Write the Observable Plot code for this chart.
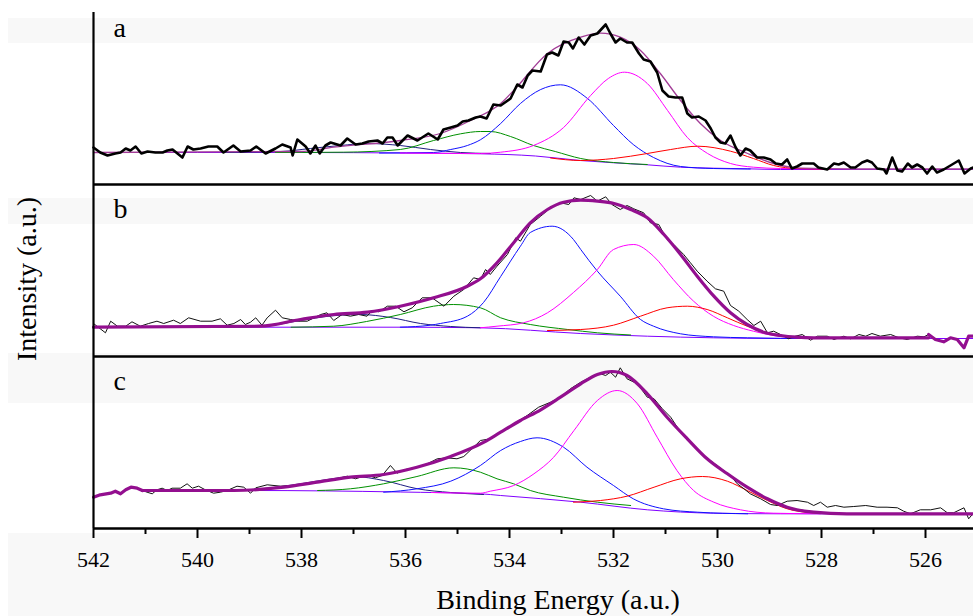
<!DOCTYPE html>
<html><head><meta charset="utf-8">
<script src="https://cdn.jsdelivr.net/npm/d3@7"></script>
<script src="https://cdn.jsdelivr.net/npm/@observablehq/plot@0.6"></script>
<style>
html,body{margin:0;padding:0;background:#fff;overflow:hidden}
#wrap{position:relative;width:973px;height:616px}
.band{position:absolute;left:8px;right:0;background:#f8f8f8}
#chart{position:absolute;left:0;top:0}
#chart svg text{font-family:"Liberation Serif","Times New Roman",serif}
#chart svg g[aria-label="x-axis tick label"]{font-size:22px}
#chart svg g.plabel{font-size:28px}
.lab{position:absolute;font-family:"Liberation Serif","Times New Roman",serif;font-size:28px;line-height:28px;height:28px;width:400px;text-align:center;color:#000;white-space:nowrap}
</style></head><body>
<div id="wrap">
<div class="band" style="top:18px;height:25px"></div>
<div class="band" style="top:198px;height:26px"></div>
<div class="band" style="top:353px;height:50px"></div>
<div class="band" style="top:533px;height:83px"></div>
<div id="chart"></div>
<div class="lab" style="left:358px;top:586px">Binding Energy (a.u.)</div>
<div class="lab" style="left:-173px;top:265px;transform:rotate(-90deg)">Intensity (a.u.)</div>
</div>
<script>
// ---- tick labels / categories ----
const panels = ["a", "b", "c"];
const majorTicks = [542, 540, 538, 536, 534, 532, 530, 528, 526];
const minorTicks = [541, 539, 537, 535, 533, 531, 529, 527];

// ---- panel a: [binding energy, intensity] ----
const rawA = [[542.00,37],[541.87,32],[541.73,29],[541.58,31],[541.48,32],[541.38,36],[541.29,34],[541.19,38],[541.08,31],[540.96,33],[540.81,32],[540.67,32],[540.58,34],[540.48,35],[540.29,27],[540.19,38],[540.08,35],[539.94,36],[539.79,38],[539.62,38],[539.50,32],[539.31,39],[539.17,33],[538.98,34],[538.87,38],[538.69,31],[538.50,36],[538.37,40],[538.21,37],[538.17,29],[538.08,45],[537.92,38],[537.83,31],[537.73,39],[537.65,31],[537.54,39],[537.44,42],[537.25,39],[537.12,46],[536.96,40],[536.83,41],[536.71,43],[536.54,44],[536.44,41],[536.35,47],[536.25,47],[536.15,39],[535.96,49],[535.77,44],[535.56,51],[535.38,45],[535.27,55],[535.13,57],[535.00,59],[534.90,63],[534.79,64],[534.65,67],[534.56,68],[534.44,66],[534.31,80],[534.17,79],[533.98,86],[533.85,100],[533.75,97],[533.65,109],[533.56,114],[533.40,113],[533.28,130],[533.18,132],[533.06,129],[532.96,143],[532.86,142],[532.78,136],[532.67,147],[532.56,140],[532.44,149],[532.31,151],[532.15,160],[532.06,151],[531.96,142],[531.87,146],[531.74,142],[531.64,142],[531.51,131],[531.42,125],[531.29,123],[531.16,112],[531.06,94],[530.94,88],[530.81,87],[530.68,87],[530.58,71],[530.49,67],[530.36,68],[530.23,64],[530.13,56],[530.04,47],[529.94,42],[529.85,41],[529.75,49],[529.65,37],[529.56,29],[529.46,36],[529.37,34],[529.24,27],[529.11,27],[528.98,25],[528.88,21],[528.76,20],[528.66,25],[528.57,16],[528.47,18],[528.37,21],[528.24,21],[528.15,21],[528.06,17],[527.89,15],[527.76,21],[527.67,20],[527.57,22],[527.44,17],[527.35,17],[527.22,22],[527.12,24],[527.03,22],[526.93,16],[526.80,15],[526.75,11],[526.64,27],[526.54,14],[526.45,13],[526.34,21],[526.26,17],[526.16,20],[526.06,17],[525.97,11],[525.87,18],[525.78,12],[525.65,15],[525.52,19],[525.36,24],[525.25,11],[525.13,16],[525.08,17]];
const envA = [[542.00,32],[538.02,33],[537.38,37.3],[536.10,44],[535.33,51],[534.75,64],[534.17,81],[533.92,94],[533.27,131],[532.63,147.3],[532.25,151.3],[531.87,147.3],[531.48,134],[531.10,111],[530.71,84],[530.33,61],[529.94,44],[529.42,31],[528.92,21],[528.40,16.3],[527.44,15.5],[525.08,15.5]];
const bgA = [[542.00,32],[538.00,32],[536.00,31.5],[534.56,30.7],[533.50,28.5],[532.64,24],[531.35,19.7],[530.71,17.3],[529.42,15.7],[528.79,15],[525.08,15]];
const navyA = [[539.50,32],[538.40,33],[537.83,36],[537.25,39],[536.73,41],[536.10,39],[535.52,35],[534.94,32],[534.37,31]];
const greenA = [[538.50,32],[537.19,32.3],[536.10,35],[535.46,44],[534.94,50.7],[534.56,53],[534.37,53],[533.98,48],[533.54,39],[533.12,33],[532.63,26],[532.00,22],[531.35,20]];
const blueA = [[536.50,31.5],[535.46,32],[535.13,35],[534.81,39],[534.56,44.7],[534.17,61],[533.79,81],[533.40,95],[533.02,99.7],[532.50,86],[532.00,59],[531.62,40],[531.23,27],[530.71,18],[530.08,16],[529.37,15.5]];
const magentaA = [[536.10,31.5],[534.56,31],[534.17,32.3],[533.54,39],[532.96,57],[532.44,89],[532.10,106],[531.79,112.3],[531.35,101],[530.96,74],[530.58,47],[530.19,31],[529.75,21],[529.31,17.3],[528.79,16],[527.83,15.5]];
const redA = [[533.21,26.5],[532.63,24],[532.00,26],[531.35,31],[530.90,35],[530.38,38.3],[529.75,33.3],[529.31,26],[528.92,19],[528.46,16],[527.83,15.5]];

// ---- panel b ----
const rawB = [[542.00,33],[541.77,23.7],[541.67,35.3],[541.54,30.3],[541.38,30.3],[541.26,34.7],[541.10,30.3],[540.94,33],[540.78,35.3],[540.65,33],[540.46,36.3],[540.33,33],[540.17,38.7],[539.94,35.3],[539.72,35.3],[539.56,37.7],[539.43,31.3],[539.30,33],[539.17,37],[539.08,32],[538.98,34.3],[538.88,38.7],[538.76,31.3],[538.66,38.7],[538.50,46.3],[538.37,38.7],[538.21,37],[538.05,35.3],[537.89,35.3],[537.76,38.7],[537.63,42],[537.51,43.7],[537.38,36],[537.22,42],[537.06,40.3],[536.90,42],[536.74,40.3],[536.64,46],[536.51,44.7],[536.35,50.3],[536.19,50.3],[536.03,44.7],[535.87,48.7],[535.68,58.7],[535.49,58.7],[535.26,50.3],[535.07,60.3],[534.88,67],[534.69,78.7],[534.56,77],[534.46,87],[534.37,82],[534.24,90.3],[534.04,102],[533.88,118.7],[533.79,115.3],[533.60,132],[533.40,140.3],[533.21,148.7],[533.02,153.7],[532.86,152],[532.76,158.7],[532.63,157],[532.44,161],[532.31,155.3],[532.15,159.7],[532.03,152],[531.87,147],[531.74,151],[531.61,147.7],[531.42,143.7],[531.29,133.7],[531.13,132],[530.97,117],[530.84,112],[530.65,102],[530.52,93.7],[530.39,85.3],[530.20,75.3],[530.04,67.7],[529.88,65.3],[529.75,51],[529.59,45.3],[529.43,37],[529.30,31],[529.17,35.3],[529.04,23.7],[528.92,25.3],[528.79,22],[528.63,17.7],[528.50,20.3],[528.37,22],[528.21,16.3],[528.08,20.3],[527.89,20.3],[527.76,17],[527.57,20.3],[527.44,17.7],[527.28,22],[527.15,20.3],[527.03,23],[526.87,20.3],[526.67,22],[526.51,18.7],[526.35,17],[526.16,20.3],[526.03,19.7],[525.94,22],[525.81,17],[525.65,14.7],[525.52,18.7],[525.39,17],[525.26,8.7],[525.17,20.3],[525.08,20.3]];
const envB = [[542.00,29.3],[538.79,30.3],[538.02,37],[537.38,42],[536.73,44.3],[536.10,50.3],[535.46,58.7],[534.81,70.3],[534.56,77.7],[534.24,93.7],[533.92,113.7],[533.60,133.7],[533.27,147],[532.96,154.3],[532.63,156.3],[532.31,155.3],[531.99,153],[531.67,147],[531.35,138.7],[531.03,122],[530.71,102],[530.39,80.3],[530.07,60.3],[529.75,43.7],[529.43,32],[529.11,24.3],[528.79,21],[528.47,19.3],[528.15,18.7],[525.94,18.7]];
const bgB = [[542.00,29.3],[536.10,29.3],[534.56,28.7],[532.63,23],[531.35,20.3],[530.08,18.7],[528.79,18],[525.08,18]];
const navyB = [[539.50,29.3],[538.79,30],[538.02,36],[537.44,40.5],[536.87,42],[536.29,39],[535.71,33],[535.13,30],[534.56,28.7]];
const greenB = [[538.20,29.3],[537.38,30.3],[536.75,35],[536.10,42],[535.46,50.3],[535.08,52],[534.56,48.7],[534.17,38.7],[533.60,32],[532.88,27],[532.31,23.7],[531.67,21.5]];
const blueB = [[536.10,29.3],[535.52,31.3],[535.33,33],[534.81,40.3],[534.50,54],[534.17,80],[533.79,110.3],[533.60,124],[533.18,130.3],[532.77,117],[532.63,107],[532.31,85.3],[531.87,60.3],[531.48,37],[531.23,30.3],[530.71,22.7],[530.08,19.7],[529.42,18.7],[528.40,18]];
const magentaB = [[534.56,28.7],[534.24,30.3],[533.73,33.7],[533.27,43.7],[532.77,64],[532.31,87],[532.00,107],[531.61,112],[531.23,100.3],[530.85,77],[530.46,55.3],[530.08,40.3],[529.69,31],[529.31,25.3],[528.92,21],[528.46,18.7],[527.83,18]];
const redB = [[533.27,26],[532.63,27],[532.00,31.3],[531.48,40.3],[530.97,48.7],[530.58,50.3],[530.20,47],[529.81,38.7],[529.43,30.3],[529.04,23.7],[528.66,19.7],[528.02,18]];

// ---- panel c ----
const rawC = [[542.00,31.3],[541.87,33.7],[541.67,35.3],[541.58,37.3],[541.48,34.7],[541.38,38.7],[541.28,41.3],[541.16,40.3],[541.06,38],[540.97,36.3],[540.87,34.7],[540.78,38.7],[540.68,40.3],[540.58,38],[540.49,40.3],[540.33,40.3],[540.20,44.7],[540.10,40.3],[539.98,42.3],[539.85,38.7],[539.69,35.3],[539.56,36.3],[539.43,38],[539.24,42.3],[539.11,41.3],[538.98,35.3],[538.88,40.7],[538.66,43.7],[538.40,42.3],[538.15,43],[537.89,45.3],[537.63,47],[537.38,49],[537.12,52.3],[536.96,49.7],[536.83,52],[536.71,53],[536.58,50.7],[536.45,53],[536.29,63],[536.16,55.3],[536.03,58.7],[535.78,61.3],[535.58,64.7],[535.39,69.7],[535.20,70.7],[535.01,69.7],[534.88,72],[534.69,81.3],[534.56,88],[534.37,89.7],[534.17,96.3],[533.92,104.7],[533.66,113],[533.44,121.3],[533.21,126.3],[533.02,131.3],[532.83,139.7],[532.63,146.3],[532.44,151.3],[532.25,154.7],[532.15,153],[532.06,156.3],[531.96,151.3],[531.87,160.7],[531.74,149.7],[531.54,144.7],[531.35,131.3],[531.22,129.7],[531.06,119.7],[530.90,111.3],[530.71,96.3],[530.55,88],[530.39,79.7],[530.26,73],[530.07,65.3],[529.88,58],[529.75,53],[529.62,44.7],[529.49,39.7],[529.37,34.7],[529.17,29.7],[528.98,24],[528.85,23],[528.66,27.3],[528.47,28],[528.27,26.3],[528.15,23],[528.02,26.3],[527.89,21.3],[527.73,23],[527.57,21.3],[527.38,22],[527.15,23],[526.93,21.3],[526.74,21.3],[526.54,20.7],[526.42,17.3],[526.29,14.7],[526.10,18.7],[525.90,18.7],[525.71,20.7],[525.58,15.7],[525.46,15.7],[525.26,20.7],[525.17,9.7],[525.08,15.3]];
const envC = [[541.06,38],[539.30,38],[538.34,41.3],[537.70,46.3],[537.06,51.3],[536.42,54],[535.78,61.3],[535.13,72],[534.49,86.3],[534.17,96.3],[533.79,108],[533.40,118.7],[533.02,131.3],[532.63,144.7],[532.31,154],[532.03,157],[531.74,153],[531.35,134.7],[530.97,111.3],[530.58,89.7],[530.20,69.7],[529.81,54.7],[529.43,41.3],[529.04,29.7],[528.66,21.3],[528.15,16.3],[527.51,14.7],[525.08,14.7]];
const bgC = [[541.06,38],[538.98,38],[536.10,36.5],[534.56,34.7],[534.17,33],[532.63,26.3],[531.35,18.7],[530.08,15.3],[528.79,14.7],[525.08,14.7]];
const navyC = [[539.31,38],[538.65,40.3],[538.02,44.7],[537.44,49.5],[537.00,52],[536.42,48],[535.77,39.7],[535.13,36],[534.50,34]];
const greenC = [[537.69,38],[537.06,39.7],[536.42,44.7],[535.78,52],[535.07,60.7],[534.56,56.3],[534.24,49.7],[533.92,44.7],[533.60,38],[532.96,31.3],[532.31,26.3],[531.67,23]];
const blueC = [[536.42,36.3],[535.78,39.7],[535.13,47.3],[534.56,63],[534.17,78],[533.79,87],[533.47,90.7],[532.96,81.3],[532.51,61.3],[532.00,43],[531.62,29.7],[531.04,19.7],[530.38,16.3],[529.42,14.7]];
const magentaC = [[535.50,36],[534.56,35.3],[534.37,37.3],[533.92,43],[533.53,54.7],[533.15,71.3],[532.76,98],[532.31,128],[531.93,138],[531.54,124.7],[531.16,91.3],[530.78,58],[530.46,38],[530.07,26.3],[529.56,18.7],[528.92,15.3],[528.02,14.7]];
const redC = [[532.77,26.3],[532.25,28],[531.74,32.3],[531.22,41.3],[530.71,49.7],[530.29,52],[529.81,47.3],[529.43,38],[529.04,28],[528.66,19.7],[528.15,15.7],[527.44,14.7]];

// ---- build table ----
const rows = [];
function add(panel, series, arr) { for (const [E, I] of arr) rows.push({panel, series, E, I}); }
add("a","raw",rawA); add("a","env",envA); add("a","bg",bgA); add("a","navy",navyA); add("a","green",greenA); add("a","blue",blueA); add("a","magenta",magentaA); add("a","red",redA);
add("b","raw",rawB); add("b","env",envB); add("b","bg",bgB); add("b","navy",navyB); add("b","green",greenB); add("b","blue",blueB); add("b","magenta",magentaB); add("b","red",redB);
add("c","raw",rawC); add("c","env",envC); add("c","bg",bgC); add("c","navy",navyC); add("c","green",greenC); add("c","blue",blueC); add("c","magenta",magentaC); add("c","red",redC);

const sel = (s, f = () => true) => rows.filter(d => d.series === s && f(d));
const comp = (s, color) => Plot.line(sel(s), {x: "E", y: "I", fy: "panel", z: "panel", stroke: color, strokeWidth: 1, curve: "monotone-x"});

const serif = '"Liberation Serif","Times New Roman",serif';
const chart = Plot.plot({
  width: 973, height: 616,
  marginTop: 12, marginBottom: 88, marginLeft: 93, marginRight: 0,
  style: {fontFamily: serif, fontSize: "22px", color: "#000", background: "transparent", overflow: "visible"},
  x: {domain: [542, 525.077], label: null},
  y: {domain: [0, 172], axis: null},
  fy: {domain: panels, axis: null, padding: 0},
  marks: [
    comp("bg", "#8000ff"),
    comp("navy", "#1e1e80"),
    comp("green", "#009000"),
    comp("blue", "#1010ff"),
    comp("magenta", "#ff00ff"),
    comp("red", "#ff0000"),
    Plot.line(sel("env", d => d.panel === "a"), {x: "E", y: "I", fy: "panel", stroke: "#a23c96", strokeWidth: 1.3, curve: "monotone-x"}),
    Plot.line(sel("raw", d => d.panel === "a"), {x: "E", y: "I", fy: "panel", stroke: "#000", strokeWidth: 2.6, strokeLinejoin: "round"}),
    Plot.line(sel("raw", d => d.panel !== "a"), {x: "E", y: "I", fy: "panel", z: "panel", stroke: "#111", strokeWidth: 1}),
    Plot.line(sel("env", d => d.panel !== "a"), {x: "E", y: "I", fy: "panel", z: "panel", stroke: "#930f8f", strokeWidth: 3.2, curve: "monotone-x"}),
    Plot.line(sel("raw", d => d.panel === "b" && d.E <= 525.94), {x: "E", y: "I", fy: "panel", stroke: "#930f8f", strokeWidth: 3.2, strokeLinejoin: "round"}),
    Plot.line(sel("raw", d => d.panel === "c" && d.E >= 541.06), {x: "E", y: "I", fy: "panel", stroke: "#930f8f", strokeWidth: 3.2, strokeLinejoin: "round"}),
    Plot.ruleX([542], {stroke: "#000", strokeWidth: 2.2}),
    Plot.ruleY([0], {stroke: "#000", strokeWidth: 2.4}),
    Plot.text(panels.filter(p => p === "a"), {fy: d => d, text: d => d, frameAnchor: "top-left", textAnchor: "start", lineAnchor: "top", dx: 20, dy: 5, fontSize: 28, fontFamily: serif, fill: "#000", className: "plabel"}),
    Plot.text(panels.filter(p => p !== "a"), {fy: d => d, text: d => d, frameAnchor: "top-left", textAnchor: "start", lineAnchor: "top", dx: 20, dy: 14, fontSize: 28, fontFamily: serif, fill: "#000", className: "plabel"}),
    Plot.axisX(majorTicks, {tickSize: 10, tickPadding: 13, strokeWidth: 2, fontSize: 22, fontFamily: serif, label: null, tickFormat: d => String(d)}),
    Plot.axisX(minorTicks, {tickSize: 6, strokeWidth: 2, label: null, tickFormat: () => ""})
  ]
});
document.getElementById("chart").appendChild(chart);
</script>
</body></html>
